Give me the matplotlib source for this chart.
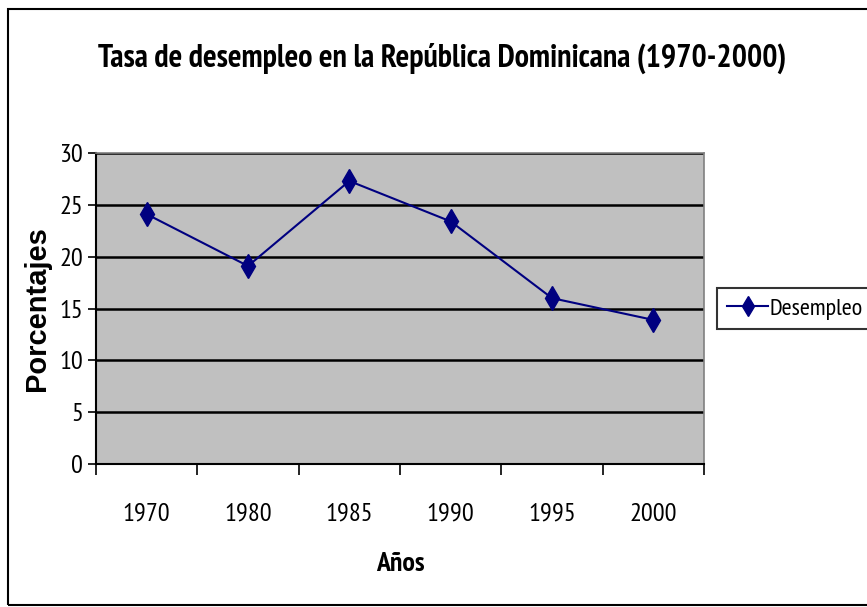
import matplotlib.pyplot as plt
from matplotlib.patches import Rectangle

anios = ["1970", "1980", "1985", "1990", "1995", "2000"]
desempleo = [24.1, 19.1, 27.3, 23.4, 16.0, 13.9]
y_ticks = [0, 5, 10, 15, 20, 25, 30]

plt.rcParams["font.family"] = ["PT Sans Narrow", "DejaVu Sans"]

fig = plt.figure(figsize=(8.67, 6.07), dpi=100)
ax = fig.add_axes([96 / 867, 1 - 464 / 607, 608 / 867, 311 / 607])

# borde exterior del grafico
fig.patches.append(Rectangle((8 / 867, 2 / 607), 1.0, 596 / 607,
                             transform=fig.transFigure, fill=False,
                             edgecolor="black", linewidth=1.5))

ax.set_facecolor("#C0C0C0")
x = list(range(len(anios)))
ax.plot(x, desempleo, color="#000080", linewidth=1.5, marker="d",
        markersize=12, label="Desempleo")
ax.set_xlim(-0.5, len(anios) - 0.5)
ax.set_ylim(0, 30)
ax.set_yticks(y_ticks)
ax.yaxis.grid(True, color="black", linewidth=1.8)
ax.set_axisbelow(True)
ax.set_xticks(x)
ax.set_xticklabels(anios, fontsize=19)
ax.tick_params(axis="x", length=0, pad=28)
ax.set_xticks([i - 0.5 for i in range(len(anios) + 1)], minor=True)
ax.tick_params(axis="x", which="minor", length=8, width=1.2, direction="out")
ax.tick_params(axis="y", labelsize=19, length=6, width=1.2, direction="out")

for s in ["top", "right"]:
    ax.spines[s].set_color("#808080")
    ax.spines[s].set_linewidth(1.2)
for s in ["left", "bottom"]:
    ax.spines[s].set_linewidth(1.5)

ax.set_xlabel("Años", fontsize=20, fontweight="bold", labelpad=19)
ax.set_ylabel("Porcentajes", fontsize=21, fontweight="bold",
              family=["Liberation Sans", "DejaVu Sans"], labelpad=6)
fig.suptitle("Tasa de desempleo en la República Dominicana (1970-2000)",
             x=442 / 867, y=1 - 58 / 607, va="center",
             fontsize=23, fontweight="bold")

leg = ax.legend(loc="center left", bbox_to_anchor=(1.022, 0.5), fontsize=17.5,
                frameon=True, fancybox=False, handlelength=1.7,
                borderpad=0.4, handletextpad=0.05, borderaxespad=0,
                markerscale=0.85)
leg.get_frame().set_edgecolor("black")
leg.get_frame().set_linewidth(1.5)

fig.savefig("out.png", dpi=100)
